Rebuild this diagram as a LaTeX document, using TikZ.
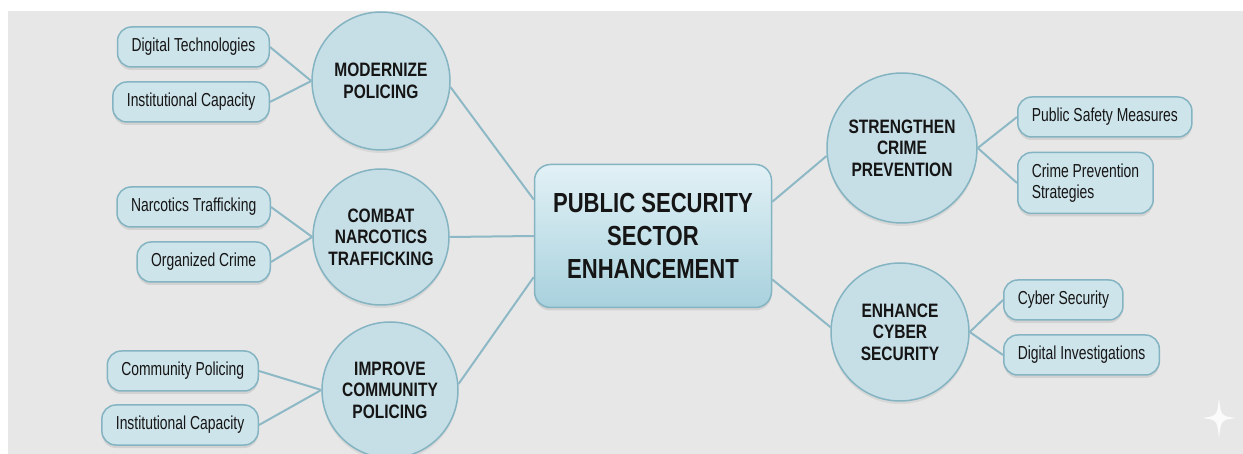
\documentclass[tikz,border=0pt]{standalone}
\usepackage{fontspec}
\setmainfont{Liberation Sans}[FakeStretch=0.8]
\newfontfamily\leaffont{Liberation Sans}[FakeStretch=0.74]
\usetikzlibrary{shadows}
\definecolor{bggrey}{HTML}{E7E7E7}
\definecolor{leaffill}{HTML}{CEE4EB}
\definecolor{nodedraw}{HTML}{84B4C2}
\definecolor{branchfill}{HTML}{C6DEE6}
\definecolor{linkcol}{HTML}{8DB8C5}
\definecolor{hubtop}{HTML}{E2F1F6}
\definecolor{hubbottom}{HTML}{A8D1DD}
\definecolor{inkcol}{HTML}{151515}

\begin{document}
\begin{tikzpicture}[x=1pt,y=-1pt,
   hub/.style={draw=nodedraw,line width=1.5pt,rounded corners=16pt,
     top color=hubtop,bottom color=hubbottom,
     minimum width=237pt,minimum height=143pt,align=center,text=inkcol,
     font=\fontsize{27.6}{33}\selectfont\bfseries,
     drop shadow={shadow xshift=0pt,shadow yshift=-3pt,opacity=0.2}},
   branch/.style={circle,draw=nodedraw,line width=1.5pt,fill=branchfill,
     inner sep=0pt,align=center,text=inkcol,
     font=\fontsize{19.4}{21.5}\selectfont\bfseries,
     drop shadow={shadow xshift=0pt,shadow yshift=-3pt,opacity=0.15}},
   leaf/.style={draw=nodedraw,line width=1.5pt,fill=leaffill,rounded corners=14pt,
     minimum height=40pt,inner xsep=14pt,align=left,text=inkcol,
     font=\leaffont\fontsize{18.8}{20.5}\selectfont,
     drop shadow={shadow xshift=0pt,shadow yshift=-3pt,opacity=0.2}},
   link/.style={draw=linkcol,line width=2pt}]
\useasboundingbox (0,0) rectangle (1243,454);
\clip (0,0) rectangle (1243,454);
\fill[white] (0,0) rectangle (1243,454);
\fill[bggrey] (8,11) rectangle (1243,454);

% centre and branches
\node[hub] (pse) at (653,236) {PUBLIC SECURITY\\SECTOR\\ENHANCEMENT};
\node[branch,minimum size=138pt] (mod) at (381,81) {MODERNIZE\\POLICING};
\node[branch,minimum size=136pt] (cnt) at (381,237) {COMBAT\\NARCOTICS\\TRAFFICKING};
\node[branch,minimum size=136pt] (icp) at (390,390) {IMPROVE\\COMMUNITY\\POLICING};
\node[branch,minimum size=150pt] (scp) at (902,148) {STRENGTHEN\\CRIME\\PREVENTION};
\node[branch,minimum size=138pt] (ecs) at (900,332) {ENHANCE\\CYBER\\SECURITY};

% leaves
\node[leaf,anchor=east] (dt) at (270,47) {Digital Technologies};
\node[leaf,anchor=east] (ic) at (270,102) {Institutional Capacity};
\node[leaf,anchor=east] (nt) at (271,207) {Narcotics Trafficking};
\node[leaf,anchor=east] (oc) at (271,262) {Organized Crime};
\node[leaf,anchor=east] (cp) at (259,371) {Community Policing};
\node[leaf,anchor=east] (ic2) at (259,425) {Institutional Capacity};
\node[leaf,anchor=west] (psm) at (1017,117) {Public Safety Measures};
\node[leaf,anchor=west,minimum height=61pt] (cps) at (1017,183) {Crime Prevention\\Strategies};
\node[leaf,anchor=west] (cs) at (1003,300) {Cyber Security};
\node[leaf,anchor=west] (di) at (1003,355) {Digital Investigations};

\draw[link] (mod.-5) -- (pse.163);
\draw[link] (cnt.east) -- (pse.west);
\draw[link] (icp.5) -- (pse.199);
\draw[link] (pse.16) -- (scp.186);
\draw[link] (pse.-20) -- (ecs.176);

\draw[link] (dt.east) -- (mod.west);
\draw[link] (ic.east) -- (mod.west);
\draw[link] (nt.east) -- (cnt.west);
\draw[link] (oc.east) -- (cnt.west);
\draw[link] (cp.east) -- (icp.west);
\draw[link] (ic2.east) -- (icp.west);
\draw[link] (scp.east) -- (psm.west);
\draw[link] (scp.east) -- (cps.west);
\draw[link] (ecs.east) -- (cs.west);
\draw[link] (ecs.east) -- (di.west);

\fill[white,opacity=0.85] (1219,398) .. controls (1221,416) .. (1236,418)
  .. controls (1221,420) .. (1219,438) .. controls (1217,420) .. (1202,418)
  .. controls (1217,416) .. (1219,398) -- cycle;
\end{tikzpicture}
\end{document}
